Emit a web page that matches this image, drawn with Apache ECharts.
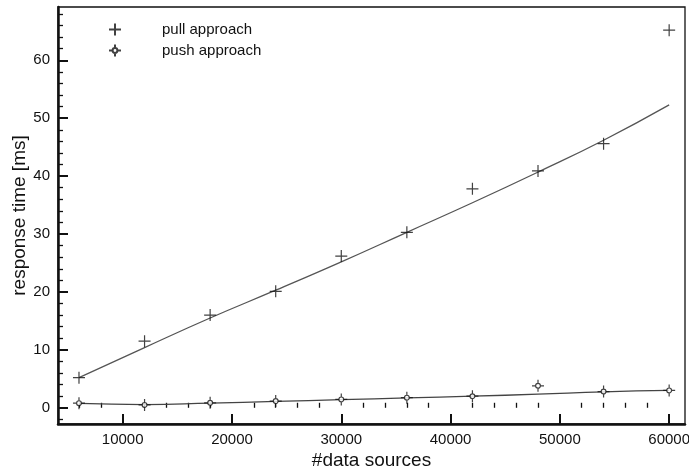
<!DOCTYPE html>
<html>
<head>
<meta charset="utf-8">
<script src="https://cdn.jsdelivr.net/npm/echarts@6/dist/echarts.min.js"></script>
<style>html,body{margin:0;padding:0;background:#fff}#c{width:689px;height:472px}</style>
</head>
<body>
<div id="c"></div>
<script>
var xValues = [6000, 12000, 18000, 24000, 30000, 36000, 42000, 48000, 54000, 60000];
var pullValues = [5.2, 11.5, 16.0, 20.1, 26.2, 30.3, 37.8, 40.9, 45.6, 65.2];
var pushValues = [0.8, 0.5, 0.85, 1.15, 1.45, 1.75, 2.0, 3.8, 2.8, 3.0];
var pullFit = [5.2, 10.4, 15.5, 20.3, 25.2, 30.3, 35.4, 40.7, 46.2, 52.3];
var pushFit = [0.75, 0.55, 0.8, 1.1, 1.4, 1.7, 2.0, 2.35, 2.75, 3.0];
var xTickLabels = [10000, 20000, 30000, 40000, 50000, 60000];
var yTickLabels = [0, 10, 20, 30, 40, 50, 60];
var xMinorTicks = [6000, 8000, 12000, 14000, 16000, 18000, 22000, 24000, 26000, 28000, 32000, 34000, 36000, 38000, 42000, 44000, 46000, 48000, 52000, 54000, 56000, 58000];
var yMinorTicks = [-2, 2, 4, 6, 8, 12, 14, 16, 18, 22, 24, 26, 28, 32, 34, 36, 38, 42, 44, 46, 48, 52, 54, 56, 58, 62, 64, 66, 68];
var xRange = [4080, 61450];
var yRange = [-2.8, 69.2];
var seriesNames = ['pull approach', 'push approach'];

function pairs(xs, ys) { return xs.map(function (x, i) { return [x, ys[i]]; }); }
function plain(v) { return String(v); }

var plusPath = 'path://M0,6H12M6,0V12';
var plusCirclePath = 'path://M0,6H3.6M8.4,6H12M6,0V3.6M6,8.4V12M8.4,6A2.4,2.4,0,1,1,3.6,6A2.4,2.4,0,1,1,8.4,6Z';
var font = 'Liberation Sans, Arial, Helvetica, sans-serif';
var gridPos = { left: 58, right: 4, top: 7, bottom: 48 };

var chart = echarts.init(document.getElementById('c'), null, { renderer: 'canvas' });
chart.setOption({
  animation: false,
  backgroundColor: '#fff',
  grid: [
    Object.assign({ show: true, borderColor: '#111', borderWidth: 1.3, containLabel: false, outerBoundsMode: 'none' }, gridPos),
    Object.assign({ show: false, containLabel: false, outerBoundsMode: 'none' }, gridPos)
  ],
  legend: {
    orient: 'vertical',
    left: 103,
    top: 17,
    itemWidth: 84,
    itemHeight: 12,
    itemGap: 6,
    data: seriesNames,
    textStyle: { fontFamily: font, fontSize: 15, color: '#111' }
  },
  xAxis: [{
    type: 'value', gridIndex: 0, min: xRange[0], max: xRange[1],
    name: '#data sources', nameLocation: 'middle', nameGap: 27, nameMoveOverlap: false,
    nameTextStyle: { fontFamily: font, fontSize: 19, color: '#111', verticalAlign: 'top' },
    axisLine: { show: true, onZero: false, lineStyle: { color: '#111', width: 2.5 } },
    axisTick: { show: true, inside: true, length: 10, customValues: xTickLabels, lineStyle: { color: '#111', width: 2 } },
    axisLabel: { show: true, margin: 8, customValues: xTickLabels, formatter: plain, fontFamily: font, fontSize: 15, color: '#111' },
    splitLine: { show: false }
  }, {
    type: 'value', gridIndex: 1, min: xRange[0], max: xRange[1],
    axisLine: { show: false },
    axisTick: { show: true, inside: true, length: 5, customValues: xMinorTicks, lineStyle: { color: '#111', width: 1.3 } },
    axisLabel: { show: false },
    splitLine: { show: false }
  }],
  yAxis: [{
    type: 'value', gridIndex: 0, min: yRange[0], max: yRange[1],
    name: 'response time [ms]', nameLocation: 'middle', nameGap: 29, nameMoveOverlap: false,
    nameTextStyle: { fontFamily: font, fontSize: 19, color: '#111' },
    axisLine: { show: true, onZero: false, lineStyle: { color: '#111', width: 2.5 } },
    axisTick: { show: true, inside: true, length: 10, customValues: yTickLabels, lineStyle: { color: '#111', width: 2 } },
    axisLabel: { show: true, margin: 8, customValues: yTickLabels, formatter: plain, fontFamily: font, fontSize: 15, color: '#111' },
    splitLine: { show: false }
  }, {
    type: 'value', gridIndex: 1, min: yRange[0], max: yRange[1],
    axisLine: { show: false },
    axisTick: { show: true, inside: true, length: 5, customValues: yMinorTicks, lineStyle: { color: '#111', width: 1.3 } },
    axisLabel: { show: false },
    splitLine: { show: false }
  }],
  series: [{
    name: 'pull fit', type: 'line', xAxisIndex: 0, yAxisIndex: 0,
    data: pairs(xValues, pullFit), smooth: 0.5, showSymbol: false, symbol: 'none',
    lineStyle: { color: '#555', width: 1.3 }, silent: true, z: 2
  }, {
    name: 'push fit', type: 'line', xAxisIndex: 0, yAxisIndex: 0,
    data: pairs(xValues, pushFit), smooth: 0.5, showSymbol: false, symbol: 'none',
    lineStyle: { color: '#444', width: 1.3 }, silent: true, z: 2
  }, {
    name: seriesNames[0], type: 'scatter', xAxisIndex: 0, yAxisIndex: 0,
    data: pairs(xValues, pullValues), symbol: plusPath, symbolSize: 12, symbolKeepAspect: true,
    itemStyle: { color: 'rgba(0,0,0,0)', borderColor: '#111', borderWidth: 1.2 }, z: 3
  }, {
    name: seriesNames[1], type: 'scatter', xAxisIndex: 0, yAxisIndex: 0,
    data: pairs(xValues, pushValues), symbol: plusCirclePath, symbolSize: 12, symbolKeepAspect: true,
    itemStyle: { color: '#fff', borderColor: '#111', borderWidth: 1.2 }, z: 3
  }, {
    name: 'minor', type: 'scatter', xAxisIndex: 1, yAxisIndex: 1, data: [], silent: true
  }]
});
</script>
</body>
</html>
